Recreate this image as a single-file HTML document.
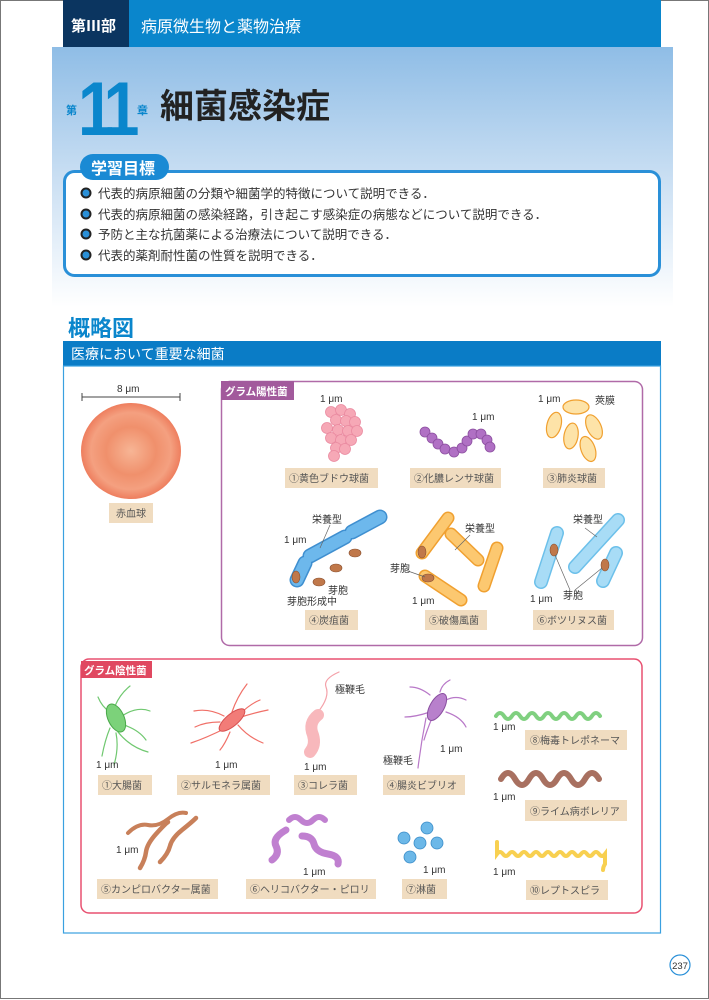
<!DOCTYPE html>
<html><head><meta charset="utf-8"><style>
html,body{margin:0;padding:0;background:#fff}
svg{display:block}
text{font-family:"Liberation Sans","Noto Sans CJK JP",sans-serif}
</style></head><body>
<svg width="709" height="1000" viewBox="0 0 709 1000" xmlns="http://www.w3.org/2000/svg">
<defs>
<linearGradient id="bg" x1="0" y1="0" x2="0" y2="1">
<stop offset="0" stop-color="#8fbde6"/><stop offset="0.55" stop-color="#cfe2f4"/><stop offset="1" stop-color="#ffffff"/>
</linearGradient>
<radialGradient id="rbc" cx="0.5" cy="0.5" r="0.5">
<stop offset="0" stop-color="#f7b595"/><stop offset="0.5" stop-color="#f0906c"/><stop offset="0.8" stop-color="#f4a080"/><stop offset="1" stop-color="#ee7e5e"/>
</radialGradient>
</defs>
<rect x="0.5" y="0.5" width="708" height="998" fill="none" stroke="#777" stroke-width="1"/>
<rect x="52" y="47" width="621" height="260" fill="url(#bg)"/>
<rect x="63" y="0" width="598" height="47" fill="#0a86cc"/>
<rect x="63" y="0" width="66" height="47" fill="#0b3560"/>
<text x="71" y="31" font-size="15" font-weight="bold" fill="#fff">第Ⅲ部</text>
<text x="141" y="32" font-size="16" fill="#fff">病原微生物と薬物治療</text>
<text x="66" y="114" font-size="11" font-weight="bold" fill="#0a86cc">第</text>
<text x="78" y="135" font-size="76" font-weight="bold" fill="#0a86cc" letter-spacing="-8" transform="scale(0.85,1)" style="transform-origin:78px 135px">11</text>
<text x="137" y="114" font-size="11" font-weight="bold" fill="#0a86cc">章</text>
<text x="160" y="118" font-size="34" font-weight="bold" fill="#222">細菌感染症</text>
<rect x="64.5" y="171.5" width="595" height="104" rx="10" fill="#fff" stroke="#2a90d8" stroke-width="3"/>
<rect x="80" y="154" width="89" height="26" rx="13" fill="#1a8ad4"/>
<text x="91" y="174" font-size="16" font-weight="bold" fill="#fff">学習目標</text>
<g font-size="12.5" fill="#333">
<circle cx="86" cy="193" r="4.5" fill="#2a90d8" stroke="#222" stroke-width="2"/><text x="98" y="198">代表的病原細菌の分類や細菌学的特徴について説明できる．</text>
<circle cx="86" cy="214" r="4.5" fill="#2a90d8" stroke="#222" stroke-width="2"/><text x="98" y="219">代表的病原細菌の感染経路，引き起こす感染症の病態などについて説明できる．</text>
<circle cx="86" cy="234" r="4.5" fill="#2a90d8" stroke="#222" stroke-width="2"/><text x="98" y="239">予防と主な抗菌薬による治療法について説明できる．</text>
<circle cx="86" cy="255" r="4.5" fill="#2a90d8" stroke="#222" stroke-width="2"/><text x="98" y="260">代表的薬剤耐性菌の性質を説明できる．</text>
</g>
<text x="68" y="336" font-size="22" font-weight="bold" fill="#0a86cc">概略図</text>
<rect x="63" y="341" width="598" height="25" fill="#0a7cc6"/>
<text x="71" y="359" font-size="14" fill="#fff">医療において重要な細菌</text>
<rect x="63.5" y="366" width="597" height="567" fill="#fff" stroke="#3aa0e0" stroke-width="1.2"/>

<!-- RBC -->
<text x="117" y="392" font-size="10" fill="#333">8 μm</text>
<line x1="82" y1="397" x2="180" y2="397" stroke="#444"/><line x1="82" y1="393" x2="82" y2="401" stroke="#444"/><line x1="180" y1="393" x2="180" y2="401" stroke="#444"/>
<ellipse cx="131" cy="451" rx="50" ry="48" fill="url(#rbc)"/>
<rect x="109" y="503" width="44" height="20" fill="#f0dcc0"/><text x="116" y="517" font-size="10" fill="#555">赤血球</text>

<!-- Gram + -->
<rect x="221.5" y="381.5" width="421" height="264" rx="8" fill="none" stroke="#b06aa8" stroke-width="1.5"/>
<rect x="221" y="381" width="73" height="19" fill="#a25a9c"/><text x="225" y="395" font-size="10.5" font-weight="bold" fill="#fff">グラム陽性菌</text>
<g fill="#f6a8b6" stroke="#ea8aa0" stroke-width="0.8">
<circle cx="331" cy="412" r="5.5"/><circle cx="341" cy="410" r="5.5"/><circle cx="350" cy="414" r="5.5"/><circle cx="336" cy="420" r="5.5"/><circle cx="346" cy="421" r="5.5"/><circle cx="355" cy="422" r="5.5"/><circle cx="327" cy="428" r="5.5"/><circle cx="338" cy="430" r="5.5"/><circle cx="348" cy="431" r="5.5"/><circle cx="357" cy="431" r="5.5"/><circle cx="331" cy="438" r="5.5"/><circle cx="341" cy="440" r="5.5"/><circle cx="351" cy="440" r="5.5"/><circle cx="336" cy="448" r="5.5"/><circle cx="345" cy="449" r="5.5"/><circle cx="334" cy="456" r="5.5"/>
</g>
<g fill="#b070c4" stroke="#8c4fa0" stroke-width="0.8">
<circle cx="425" cy="432" r="5"/><circle cx="432" cy="438" r="5"/><circle cx="438" cy="444" r="5"/><circle cx="445" cy="449" r="5"/><circle cx="454" cy="452" r="5"/><circle cx="462" cy="448" r="5"/><circle cx="467" cy="441" r="5"/><circle cx="473" cy="434" r="5"/><circle cx="481" cy="434" r="5"/><circle cx="487" cy="440" r="5"/><circle cx="490" cy="447" r="5"/>
</g>
<g fill="#fde3a8" stroke="#f0a030" stroke-width="1.2">
<ellipse cx="576" cy="407" rx="13" ry="7"/><ellipse cx="554" cy="425" rx="7" ry="13" transform="rotate(15 554 425)"/><ellipse cx="571" cy="436" rx="7" ry="13" transform="rotate(10 571 436)"/><ellipse cx="594" cy="427" rx="7" ry="13" transform="rotate(-25 594 427)"/><ellipse cx="588" cy="449" rx="7" ry="13" transform="rotate(-20 588 449)"/>
</g>
<g font-size="10" fill="#333"><text x="320" y="402">1 μm</text><text x="472" y="420">1 μm</text><text x="538" y="402">1 μm</text><text x="595" y="404">莢膜</text></g>
<g fill="#f0dcc0"><rect x="285" y="468" width="93" height="20"/><rect x="410" y="468" width="91" height="20"/><rect x="543" y="468" width="62" height="20"/><rect x="305" y="610" width="53" height="20"/><rect x="425" y="610" width="62" height="20"/><rect x="533" y="610" width="81" height="20"/></g>
<g font-size="10" fill="#555"><text x="289" y="482">①黄色ブドウ球菌</text><text x="414" y="482">②化膿レンサ球菌</text><text x="547" y="482">③肺炎球菌</text><text x="309" y="624">④炭疽菌</text><text x="429" y="624">⑤破傷風菌</text><text x="537" y="624">⑥ボツリヌス菌</text></g>
<g stroke-linecap="round">
<g stroke="#3f8fd0" stroke-width="15"><line x1="297" y1="580" x2="305" y2="563"/><line x1="310" y1="556" x2="345" y2="537"/><line x1="352" y1="532" x2="380" y2="517"/></g>
<g stroke="#6db8ec" stroke-width="12"><line x1="297" y1="580" x2="305" y2="563"/><line x1="310" y1="556" x2="345" y2="537"/><line x1="352" y1="532" x2="380" y2="517"/></g>
<g stroke="#f0a030" stroke-width="13"><line x1="422" y1="553" x2="448" y2="518"/><line x1="451" y1="534" x2="478" y2="560"/><line x1="497" y1="548" x2="484" y2="586"/><line x1="425" y1="576" x2="461" y2="600"/></g>
<g stroke="#fcc870" stroke-width="10"><line x1="422" y1="553" x2="448" y2="518"/><line x1="451" y1="534" x2="478" y2="560"/><line x1="497" y1="548" x2="484" y2="586"/><line x1="425" y1="576" x2="461" y2="600"/></g>
<g stroke="#6cc0ea" stroke-width="14"><line x1="557" y1="533" x2="541" y2="582"/><line x1="618" y1="520" x2="575" y2="567"/><line x1="616" y1="553" x2="603" y2="581"/></g>
<g stroke="#a8dcf6" stroke-width="11"><line x1="557" y1="533" x2="541" y2="582"/><line x1="618" y1="520" x2="575" y2="567"/><line x1="616" y1="553" x2="603" y2="581"/></g>
</g>
<g fill="#c0784a" stroke="#8a5030" stroke-width="0.6">
<ellipse cx="296" cy="577" rx="4" ry="6"/><ellipse cx="355" cy="553" rx="6" ry="4"/><ellipse cx="336" cy="568" rx="6" ry="4"/><ellipse cx="319" cy="582" rx="6" ry="4"/>
<ellipse cx="422" cy="552" rx="4" ry="6"/><ellipse cx="428" cy="578" rx="6" ry="4"/>
<ellipse cx="554" cy="550" rx="4" ry="6"/><ellipse cx="605" cy="565" rx="4" ry="6"/>
</g>
<g stroke="#666" stroke-width="0.7" fill="none"><line x1="330" y1="525" x2="320" y2="548"/><line x1="470" y1="535" x2="455" y2="550"/><line x1="405" y1="570" x2="425" y2="577"/><line x1="585" y1="528" x2="597" y2="537"/><line x1="570" y1="590" x2="555" y2="555"/><line x1="575" y1="590" x2="602" y2="568"/></g>
<g font-size="10" fill="#333"><text x="312" y="523">栄養型</text><text x="284" y="543">1 μm</text><text x="328" y="594">芽胞</text><text x="287" y="605">芽胞形成中</text><text x="465" y="532">栄養型</text><text x="390" y="572">芽胞</text><text x="412" y="604">1 μm</text><text x="573" y="523">栄養型</text><text x="530" y="602">1 μm</text><text x="563" y="599">芽胞</text></g>

<!-- Gram - -->
<rect x="81" y="659" width="561" height="254" rx="8" fill="none" stroke="#e85070" stroke-width="1.5"/>
<rect x="81" y="661" width="71" height="17" fill="#e04860"/><text x="84" y="674" font-size="10.5" font-weight="bold" fill="#fff">グラム陰性菌</text>
<g fill="none" stroke-width="1.2" stroke-linecap="round">
<g stroke="#70c870"><path d="M115 706 q5-12 15-20 M122 716 q15 -10 28 -5 M110 728 q-5 12 -8 28 M118 732 q12 15 30 20 M124 725 q15 5 22 15 M110 712 q-8 -5 -12 -15 M116 733 q3 15 -2 32"/></g>
<g stroke="#f07068"><path d="M224 716 q-15 -8 -30 -5 M232 712 q5-15 15-28 M238 718 q15 -5 30 -8 M226 728 q-20 10 -35 15 M230 732 q-5 12 -10 18 M238 725 q10 12 25 18 M240 714 q10 -10 20 -14 M220 722 q-15 0 -25 5"/></g>
<path stroke="#f4a0a8" d="M318 712 q12 -15 8 -25 q-3 -8 13 -15"/>
<g stroke="#b878c8"><path d="M430 695 q-10 -8 -20 -8 M440 692 q2 -8 10 -12 M430 712 q-15 5 -25 5 M432 718 q-5 12 -8 22 M426 718 q-5 25 -8 50 M446 712 q15 5 20 15 M446 700 q10 -5 20 0"/></g>
</g>
<ellipse cx="116" cy="718" rx="8" ry="15" transform="rotate(-25 116 718)" fill="#7cd27a" stroke="#4aa84a"/>
<ellipse cx="232" cy="720" rx="6" ry="16" transform="rotate(50 232 720)" fill="#f27c78" stroke="#d85050"/>
<path d="M318 715 q-10 8 -5 20 q3 10 -3 17" stroke="#f8b8bc" stroke-width="12" fill="none" stroke-linecap="round"/>
<ellipse cx="437" cy="707" rx="7" ry="15" transform="rotate(30 437 707)" fill="#b880cc" stroke="#8a4fa0"/>
<g fill="none" stroke-linecap="round">
<path d="M496 716 q4 -6 8 0 t8 0 t8 0 t8 0 t8 0 t8 0 t8 0 t8 0 t8 0 t8 0 t8 0 t8 0 t8 0" stroke="#80d080" stroke-width="4"/>
<path d="M501 797 q7 -12 14 0 t14 0 t14 0 t14 0 t14 0 t14 0 t14 0" stroke="#a87060" stroke-width="6" transform="translate(0,-18)"/>
<path d="M497 842 v12 q3 -4 6 0 t6 0 t6 0 t6 0 t6 0 t6 0 t6 0 t6 0 t6 0 t6 0 t6 0 t6 0 t6 0 t6 0 t6 0 t6 0 t6 0 t6 0 v10 q-2 3 -2 6" stroke="#f8d050" stroke-width="4"/>
<path d="M128 833 q10 -10 20 -8 t20 -6 t18 -6" stroke="#c8805a" stroke-width="4"/>
<path d="M140 868 q5 -8 6 -16 t10 -18 t12 -12" stroke="#c8805a" stroke-width="4.5"/>
<path d="M160 862 q8 -8 10 -16 t12 -16 t14 -12" stroke="#c8805a" stroke-width="4.5"/>
<path d="M289 820 q6 -6 12 0 t12 0 t12 0" stroke="#c080d0" stroke-width="6"/>
<path d="M272 860 q8 -6 4 -14 t10 -16" stroke="#c080d0" stroke-width="7"/>
<path d="M302 836 q10 0 12 8 t14 10 t10 10" stroke="#c080d0" stroke-width="7"/>
</g>
<g fill="#6cb8e8" stroke="#3a8cc8" stroke-width="0.8">
<circle cx="404" cy="838" r="6"/><circle cx="427" cy="828" r="6"/><circle cx="420" cy="843" r="6"/><circle cx="437" cy="843" r="6"/><circle cx="410" cy="857" r="6"/>
</g>
<g font-size="10" fill="#333"><text x="96" y="768">1 μm</text><text x="215" y="768">1 μm</text><text x="304" y="770">1 μm</text><text x="335" y="693">極鞭毛</text><text x="383" y="764">極鞭毛</text><text x="440" y="752">1 μm</text><text x="493" y="730">1 μm</text><text x="493" y="800">1 μm</text><text x="116" y="853">1 μm</text><text x="303" y="875">1 μm</text><text x="423" y="873">1 μm</text><text x="493" y="875">1 μm</text></g>
<g fill="#f0dcc0"><rect x="98" y="775" width="54" height="20"/><rect x="177" y="775" width="93" height="20"/><rect x="294" y="775" width="63" height="20"/><rect x="383" y="775" width="82" height="20"/><rect x="525" y="730" width="102" height="20"/><rect x="525" y="800" width="102" height="21"/><rect x="97" y="879" width="121" height="20"/><rect x="246" y="879" width="130" height="20"/><rect x="402" y="879" width="45" height="20"/><rect x="526" y="880" width="82" height="20"/></g>
<g font-size="10" fill="#555"><text x="102" y="789">①大腸菌</text><text x="181" y="789">②サルモネラ属菌</text><text x="298" y="789">③コレラ菌</text><text x="387" y="789">④腸炎ビブリオ</text><text x="530" y="744">⑧梅毒トレポネーマ</text><text x="530" y="815">⑨ライム病ボレリア</text><text x="101" y="893">⑤カンピロバクター属菌</text><text x="250" y="893">⑥ヘリコバクター・ピロリ</text><text x="406" y="893">⑦淋菌</text><text x="530" y="894">⑩レプトスピラ</text></g>

<circle cx="680" cy="965" r="10" fill="#fff" stroke="#2a90d8" stroke-width="1.2"/>
<text x="680" y="969" font-size="9.5" fill="#333" text-anchor="middle">237</text>
</svg>
</body></html>
